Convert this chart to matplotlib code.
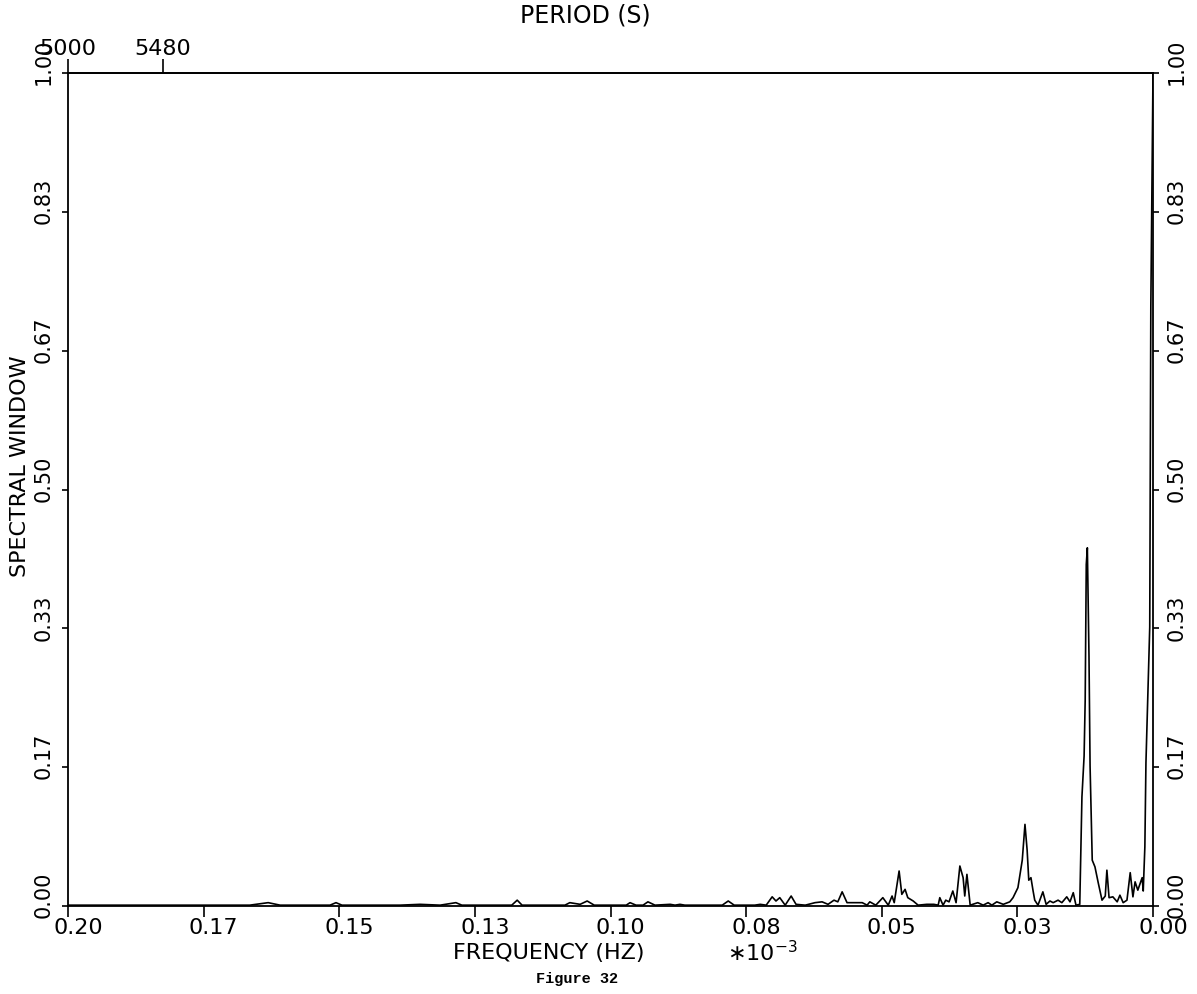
import matplotlib
matplotlib.use("Agg")
import matplotlib.pyplot as plt
from matplotlib.transforms import ScaledTranslation

# spectral window, frequency in units of 1e-3 Hz
freq = [0.2000, 0.1849, 0.1665, 0.1631, 0.1609, 0.1517, 0.1506, 0.1495, 0.1388, 0.1351,
        0.1314, 0.1285, 0.1274, 0.1182, 0.1172, 0.1163, 0.1084, 0.1075, 0.1056, 0.1043,
        0.1030, 0.0971, 0.0964, 0.0953, 0.0940, 0.0931, 0.0918, 0.0890, 0.0881, 0.0872,
        0.0863, 0.0794, 0.0783, 0.0772, 0.0734, 0.0724, 0.0713, 0.0702, 0.0695, 0.0688,
        0.0678, 0.0667, 0.0658, 0.0641, 0.0623, 0.0610, 0.0599, 0.0588, 0.0581, 0.0573,
        0.0564, 0.0549, 0.0536, 0.0527, 0.0522, 0.0511, 0.0498, 0.0488, 0.0481, 0.0477,
        0.0468, 0.0463, 0.0457, 0.0452, 0.0442, 0.0433, 0.0417, 0.0404, 0.0396, 0.0393,
        0.0387, 0.0382, 0.0376, 0.0369, 0.0363, 0.0356, 0.0350, 0.0347, 0.0343, 0.0337,
        0.0323, 0.0313, 0.0304, 0.0297, 0.0288, 0.0276, 0.0264, 0.0258, 0.0249, 0.0241,
        0.0236, 0.0232, 0.0229, 0.0225, 0.0221, 0.0218, 0.0212, 0.0203, 0.0197, 0.0190,
        0.0184, 0.0175, 0.0168, 0.0159, 0.0153, 0.0147, 0.0142, 0.0135, 0.0131, 0.0127,
        0.0125, 0.0123, 0.0121, 0.0118, 0.0116, 0.0112, 0.0107, 0.0101, 0.0094, 0.0088,
        0.0085, 0.0081, 0.0074, 0.0066, 0.0061, 0.0055, 0.0048, 0.0042, 0.0037, 0.0033,
        0.0028, 0.0020, 0.0018, 0.0015, 0.0013, 0.0009, 0.0006, 0.0004, 0.0000]
window = [0.001, 0.001, 0.001, 0.004, 0.001, 0.001, 0.004, 0.001, 0.001, 0.002,
          0.001, 0.004, 0.001, 0.001, 0.007, 0.001, 0.001, 0.004, 0.002, 0.006,
          0.001, 0.001, 0.004, 0.001, 0.001, 0.005, 0.001, 0.002, 0.001, 0.002,
          0.001, 0.001, 0.006, 0.001, 0.001, 0.002, 0.001, 0.011, 0.006, 0.010,
          0.001, 0.012, 0.002, 0.001, 0.004, 0.005, 0.002, 0.007, 0.005, 0.017,
          0.004, 0.004, 0.004, 0.001, 0.005, 0.001, 0.010, 0.001, 0.012, 0.004,
          0.042, 0.014, 0.020, 0.010, 0.006, 0.001, 0.002, 0.002, 0.001, 0.010,
          0.001, 0.007, 0.005, 0.018, 0.004, 0.048, 0.034, 0.012, 0.038, 0.001,
          0.004, 0.001, 0.004, 0.001, 0.005, 0.002, 0.005, 0.010, 0.022, 0.055,
          0.098, 0.067, 0.031, 0.034, 0.018, 0.007, 0.001, 0.017, 0.002, 0.006,
          0.004, 0.007, 0.004, 0.011, 0.005, 0.016, 0.001, 0.002, 0.131, 0.180,
          0.247, 0.410, 0.430, 0.300, 0.168, 0.055, 0.047, 0.028, 0.007, 0.012,
          0.043, 0.010, 0.011, 0.005, 0.013, 0.004, 0.007, 0.040, 0.011, 0.029,
          0.019, 0.034, 0.018, 0.071, 0.172, 0.263, 0.335, 0.720, 1.000]

x_ticks = [0.200, 0.175, 0.150, 0.125, 0.100, 0.075, 0.050, 0.025, 0.000]
x_labels = ["0.20", "0.17", "0.15", "0.13", "0.10", "0.08", "0.05", "0.03", "0.00"]
y_ticks = [0, 1 / 6, 2 / 6, 3 / 6, 4 / 6, 5 / 6, 1]
y_labels = ["0.00", "0.17", "0.33", "0.50", "0.67", "0.83", "1.00"]
periods = [5000, 5480]

W, H = 1197, 994
plt.rcParams["font.family"] = "DejaVu Sans"

fig = plt.figure(figsize=(W / 100, H / 100), dpi=100)
ax = fig.add_axes([68 / W, 1 - 906 / H, (1153 - 68) / W, (906 - 73) / H])

ax.plot(freq, window, color="black", lw=1.2)
ax.set_xlim(0.2, 0.0)
ax.set_ylim(0, 1)

for sp in ax.spines.values():
    sp.set_linewidth(1.3)

ax.set_xticks(x_ticks, x_labels, fontsize=16)
ax.set_yticks(y_ticks, y_labels, fontsize=15, rotation=90, va="center")
ax.tick_params(axis="x", direction="out", length=8, width=1.2, pad=1)
ax.tick_params(axis="y", direction="out", length=4, width=1.2, pad=6,
               right=True, labelright=True)

# plotter labels sit a little off their ticks
shift_x = ScaledTranslation(10 / 100, 0, fig.dpi_scale_trans)
for lab in ax.get_xticklabels():
    lab.set_transform(lab.get_transform() + shift_x)
shift_y = ScaledTranslation(0, 11 / 100, fig.dpi_scale_trans)
for tk in ax.yaxis.get_major_ticks():
    tk.label1.set_transform(tk.label1.get_transform() + shift_y)
    tk.label2.set_transform(tk.label2.get_transform() + shift_y)
    tk.label2.set_rotation(90)

top = ax.secondary_xaxis("top")
top.set_xticks([1000 / p for p in periods], [str(p) for p in periods], fontsize=16)
top.tick_params(direction="out", length=10, width=1.2, pad=0)
top.spines["top"].set_linewidth(1.3)

fig.text(585 / W, 1 - 15 / H, "PERIOD (S)", ha="center", va="center", fontsize=17)
fig.text(20 / W, 1 - 466 / H, "SPECTRAL WINDOW", ha="center", va="center",
         rotation=90, fontsize=16)
fig.text(549 / W, 1 - 953 / H, "FREQUENCY (HZ)", ha="center", va="center", fontsize=16)
fig.text(762 / W, 1 - 953 / H, r"$\ast$10$^{-3}$", ha="center", va="center", fontsize=16)
fig.text(577 / W, 1 - 979 / H, "Figure 32", ha="center", va="center",
         fontsize=11, family="Liberation Mono", weight="bold")

fig.savefig("out.png", dpi=100)
